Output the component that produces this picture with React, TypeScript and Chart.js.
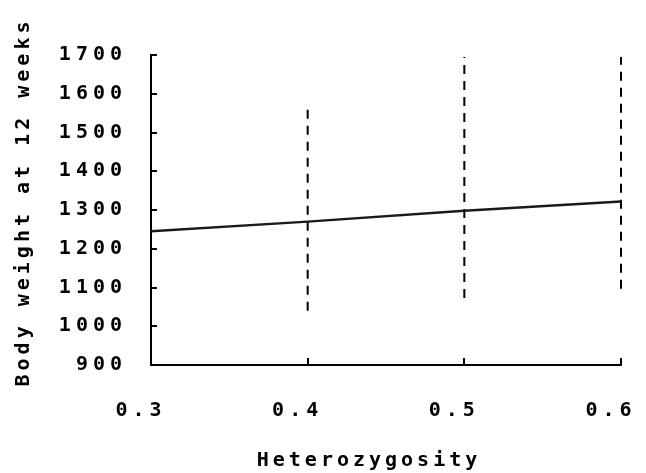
import React, { useEffect, useRef } from "react";
import { Chart, registerables } from "chart.js";

Chart.register(...registerables);

// Data
const heterozygosity = [0.3, 0.4, 0.5, 0.6];
const meanWeight = [1245, 1270, 1298, 1322];
const upperWeight = [1458, 1563, 1695, 1695];
const lowerWeight = [932, 1040, 1073, 1097];
const yMin = 900;
const yMax = 1700;
const yStep = 100;
const xMin = 0.3;
const xMax = 0.6;
const xStep = 0.1;
const xTitle = "Heterozygosity";
const yTitle = "Body weight at 12 weeks";

const FONT = "'DejaVu Sans Mono', 'Liberation Mono', monospace";

const spacingPlugin = {
  id: "letterSpacing",
  beforeLayout(chart: any) {
    chart.ctx.letterSpacing = "5px";
  },
  beforeDraw(chart: any) {
    chart.ctx.letterSpacing = "5px";
  },
};

const inwardTicksPlugin = {
  id: "inwardTicks",
  afterDatasetsDraw(chart: any) {
    const { ctx, chartArea, scales } = chart;
    ctx.save();
    ctx.strokeStyle = "#000";
    ctx.lineWidth = 2;
    ctx.setLineDash([]);
    scales.y.ticks.forEach((t: any) => {
      const y = Math.round(scales.y.getPixelForValue(t.value));
      ctx.beginPath();
      ctx.moveTo(chartArea.left, y);
      ctx.lineTo(chartArea.left + 6, y);
      ctx.stroke();
    });
    scales.x.ticks.forEach((t: any, i: number) => {
      if (i === 0) return;
      const x = Math.round(scales.x.getPixelForValue(t.value));
      ctx.beginPath();
      ctx.moveTo(x, chartArea.bottom);
      ctx.lineTo(x, chartArea.bottom - 7);
      ctx.stroke();
    });
    ctx.restore();
  },
};

const axisTitlesPlugin = {
  id: "axisTitles",
  afterDraw(chart: any) {
    const { ctx, chartArea } = chart;
    ctx.save();
    ctx.letterSpacing = "4px";
    ctx.font = `bold 20px ${FONT}`;
    ctx.fillStyle = "#000";
    ctx.textAlign = "center";
    ctx.textBaseline = "middle";
    ctx.fillText(xTitle, (chartArea.left + chartArea.right) / 2 - 17, chartArea.bottom + 96);
    ctx.translate(chartArea.left - 127, (chartArea.top + chartArea.bottom) / 2 - 8);
    ctx.rotate(-Math.PI / 2);
    ctx.fillText(yTitle, 0, 0);
    ctx.restore();
  },
};

export default function App() {
  const canvasRef = useRef<HTMLCanvasElement | null>(null);

  useEffect(() => {
    if (!canvasRef.current) return;

    const meanPoints = heterozygosity.map((x, i) => ({ x, y: meanWeight[i] }));
    const barDatasets = heterozygosity.map((x, i) => ({
      type: "line" as const,
      label: `range ${x}`,
      data: [
        { x, y: lowerWeight[i] },
        { x, y: upperWeight[i] },
      ],
      borderColor: "#000",
      borderWidth: 2,
      borderDash: [9, 7],
      pointRadius: 0,
      fill: false,
      clip: false as any,
    }));

    const chart = new Chart(canvasRef.current, {
      type: "line",
      data: {
        datasets: [
          {
            label: "Body weight",
            data: meanPoints,
            borderColor: "#1a1a1a",
            borderWidth: 2.5,
            pointRadius: 0,
            fill: false,
            tension: 0,
          },
          ...barDatasets,
        ],
      },
      options: {
        animation: false,
        responsive: false,
        devicePixelRatio: 1,
        layout: { padding: { top: 55, right: 25, left: 0, bottom: 0 } },
        plugins: {
          legend: { display: false },
          tooltip: { enabled: false },
        },
        scales: {
          x: {
            type: "linear",
            min: xMin,
            max: xMax,
            afterFit: (scale: any) => {
              scale.height = 108;
              scale.paddingLeft = 0;
              scale.paddingRight = 0;
            },
            ticks: {
              stepSize: xStep,
              color: "#000",
              font: { family: FONT, size: 20, weight: "bold" },
              padding: 34,
              labelOffset: -10,
              maxRotation: 0,
              callback: (v: any) => Number(v).toFixed(1),
            },
            grid: { display: true, drawOnChartArea: false, drawTicks: false },
            border: { display: true, color: "#000", width: 2 },
          },
          y: {
            type: "linear",
            min: yMin,
            max: yMax,
            afterFit: (scale: any) => {
              scale.width = 151;
            },
            ticks: {
              stepSize: yStep,
              color: "#000",
              font: { family: FONT, size: 20, weight: "bold" },
              padding: 24,
              callback: (v: any) => String(Math.round(Number(v))),
            },
            grid: { display: true, drawOnChartArea: false, drawTicks: false },
            border: { display: true, color: "#000", width: 2 },
          },
        },
      },
      plugins: [spacingPlugin, inwardTicksPlugin, axisTitlesPlugin],
    } as any);

    return () => chart.destroy();
  }, []);

  return (
    <div style={{ position: "fixed", left: 0, top: 0, width: 646, height: 473, background: "#fff" }}>
      <canvas ref={canvasRef} width={646} height={473} style={{ display: "block" }} />
    </div>
  );
}
